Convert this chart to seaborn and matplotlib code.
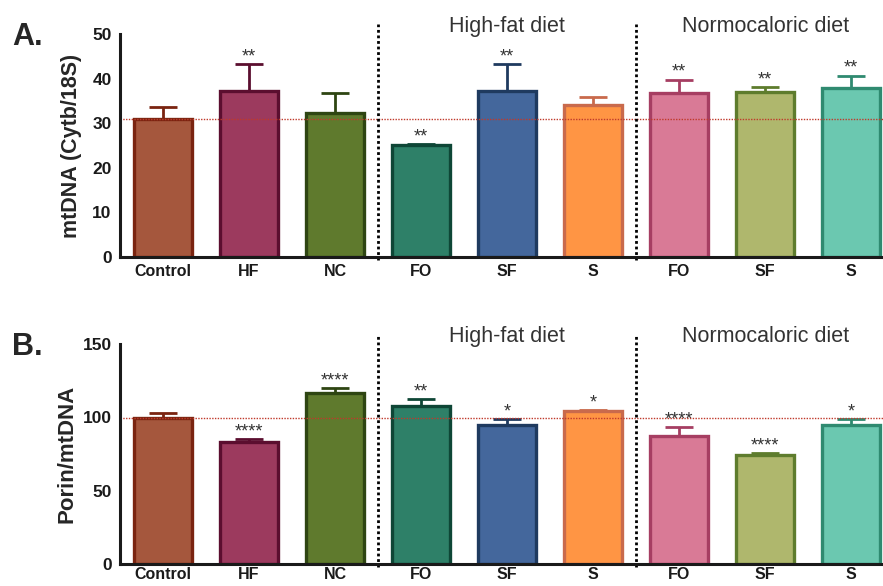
import pandas as pd
import seaborn as sns
import matplotlib.pyplot as plt

# groups (unique keys for seaborn, shown labels for the axis)
group_keys = ["Control", "HF", "NC", "HF-FO", "HF-SF", "HF-S", "NC-FO", "NC-SF", "NC-S"]
group_labels = ["Control", "HF", "NC", "FO", "SF", "S", "FO", "SF", "S"]

fill_colors = ["#A5573D", "#9C3A5E", "#5F7A2D", "#2E8068", "#44679C",
               "#FF9544", "#D97A96", "#AFB76D", "#6BC8B0"]
edge_colors = ["#7A2410", "#5B0E2F", "#2E4512", "#0E4636", "#1F3A5F",
               "#C96A4C", "#A63E62", "#5E7C2D", "#2F8A70"]

# panel A: mtDNA (Cytb/18S)
mtdna_mean = [30.9, 37.2, 32.2, 25.1, 37.3, 34.2, 36.8, 37.1, 37.8]
mtdna_sem = [2.8, 6.0, 4.5, 0.3, 5.9, 1.7, 3.0, 1.1, 2.9]
mtdna_stars = ["", "**", "", "**", "**", "", "**", "**", "**"]

# panel B: Porin/mtDNA
porin_mean = [99.8, 82.9, 116.5, 107.6, 94.6, 104.3, 87.3, 74.6, 94.6]
porin_sem = [3.2, 2.1, 3.5, 4.9, 4.1, 0.9, 6.0, 1.1, 4.1]
porin_stars = ["", "****", "****", "**", "*", "*", "****", "****", "*"]

diet_titles = ["High-fat diet", "Normocaloric diet"]
diet_centers = [4, 7]
diet_separators = [2.5, 5.5]

sns.set_style("white")
plt.rcParams['font.family'] = ['Liberation Sans', 'DejaVu Sans']


def draw_panel(ax, means, sems, stars, ylim, yticks, ylabel, label_x, label_size, xpad):
    frame = pd.DataFrame({"group": group_keys, "value": means})
    sns.barplot(data=frame, x="group", y="value", hue="group", order=group_keys,
                hue_order=group_keys, palette=fill_colors, saturation=1,
                width=0.68, errorbar=None, legend=False, ax=ax, zorder=2)
    for patch, edge in zip(ax.patches, edge_colors):
        patch.set_edgecolor(edge)
        patch.set_linewidth(2.4)

    for i, (m, e, c, s) in enumerate(zip(means, sems, edge_colors, stars)):
        ax.errorbar(i, m, yerr=[[0], [e]], color=c, elinewidth=2, capsize=10,
                    capthick=2, zorder=1.5)
        if s:
            ax.annotate(s, (i, m + e), xytext=(0, -1), textcoords="offset points",
                        ha="center", va="bottom", fontsize=13, color="#333333")

    # control reference line
    ax.axhline(means[0], color="#C0392B", lw=1, ls=(0, (1, 1)), zorder=3)

    xt = ax.get_xaxis_transform()
    for xs in diet_separators:
        ax.plot([xs, xs], [-0.012, 1.045], transform=xt, color="black", lw=2,
                ls=(0, (1, 1)), clip_on=False, zorder=4)
    for title, xc in zip(diet_titles, diet_centers):
        ax.text(xc, 1.009, title, transform=xt, ha="center", va="baseline",
                fontsize=15.5, color="#333333")

    ax.set_xlim(-0.5, 8.37)
    ax.set_ylim(*ylim)
    ax.set_yticks(yticks)
    ax.set_xticks(range(len(group_labels)))
    ax.set_xticklabels(group_labels, fontweight="bold", fontsize=11.5)
    for lab in ax.get_yticklabels():
        lab.set_fontweight("bold")
        lab.set_fontsize(12.5)
    ax.tick_params(axis="y", length=5, width=2, direction="out", pad=1, colors="#1a1a1a")
    ax.tick_params(axis="x", length=0, pad=xpad, colors="#1a1a1a")
    ax.set_xlabel("")
    ax.set_ylabel(ylabel, fontweight="bold", fontsize=label_size)
    ax.yaxis.set_label_coords(label_x, 0.5)
    sns.despine(ax=ax)
    for side in ["left", "bottom"]:
        ax.spines[side].set_linewidth(2.2)
        ax.spines[side].set_color("#1a1a1a")
        ax.spines[side].set_zorder(5)


fig = plt.figure(figsize=(8.83, 5.86), dpi=100)
ax_a = fig.add_axes([0.1359, 0.5614, 0.8641, 0.3805])
ax_b = fig.add_axes([0.1359, 0.0375, 0.8641, 0.3755])

draw_panel(ax_a, mtdna_mean, mtdna_sem, mtdna_stars, (0, 50), [0, 10, 20, 30, 40, 50],
           "mtDNA (Cytb/18S)", -0.05, 15.5, 5)
draw_panel(ax_b, porin_mean, porin_sem, porin_stars, (0, 150), [0, 50, 100, 150],
           "Porin/mtDNA", -0.056, 16, 2)

fig.text(0.0136, 0.923, "A.", fontsize=22, fontweight="bold", va="baseline")
fig.text(0.0136, 0.394, "B.", fontsize=22, fontweight="bold", va="baseline")

fig.savefig("out.png", dpi=100)
